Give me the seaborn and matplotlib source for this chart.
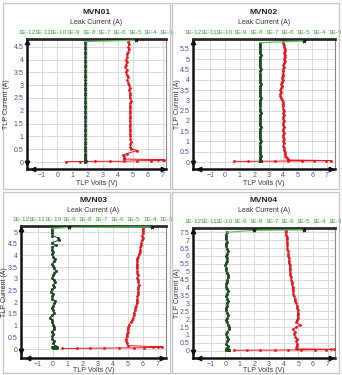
import numpy as np
import matplotlib
matplotlib.use('Agg')
import matplotlib.pyplot as plt
import seaborn as sns
from matplotlib.patches import Rectangle
from matplotlib.ticker import FixedLocator, FuncFormatter, NullLocator

sns.set_style('white')
plt.rcParams['font.family'] = ['Liberation Sans', 'DejaVu Sans']

titles = ['MVN01', 'MVN02', 'MVN03', 'MVN04']
leak_ticks = [1e-12, 1e-11, 1e-10, 1e-9, 1e-8, 1e-7, 1e-6, 1e-5, 1e-4, 1e-3]
leak_labels = ['1E-12', '1E-11', '1E-10', '1E-9', '1E-8', '1E-7', '1E-6', '1E-5', '1E-4', '1E-3']
volt_ticks = [-1, 0, 1, 2, 3, 4, 5, 6, 7]

# ---------------- MVN01 ----------------
i1 = [0.02, 0.02, 0.03, 0.03, 0.03, 0.05, 0.06, 0.07, 0.08, 0.09,
      0.12, 0.17, 0.22, 0.27, 0.33, 0.45, 0.52,
      0.60, 0.70, 0.80, 0.90, 1.00, 1.10, 1.20, 1.30, 1.40, 1.50,
      1.60, 1.70, 1.80, 1.90, 2.00, 2.10, 2.20, 2.30, 2.40, 2.50,
      2.60, 2.70, 2.80, 2.90, 3.00, 3.10, 3.20, 3.30, 3.40, 3.50,
      3.60, 3.70, 3.80, 3.90, 4.00, 4.10, 4.20, 4.30, 4.40, 4.50,
      4.60, 4.70, 4.75]
v1 = [0.6, 1.5, 2.5, 3.5, 4.4, 5.3, 6.2, 6.7, 7.0, 7.1,
      4.4, 4.45, 4.4, 4.35, 4.6, 5.3, 4.9,
      4.85, 4.85, 4.9, 4.85, 4.85, 4.8, 4.85, 4.8, 4.8, 4.85,
      4.8, 4.8, 4.85, 4.8, 4.8, 4.85, 4.8, 4.85, 4.9, 4.8,
      4.8, 4.85, 4.75, 4.8, 4.75, 4.7, 4.65, 4.7, 4.6, 4.55,
      4.6, 4.5, 4.55, 4.6, 4.55, 4.65, 4.6, 4.7, 4.75, 4.7,
      4.75, 4.7, 4.75]
l1 = [6.0e-9, 6.1e-9, 5.9e-9, 6.0e-9, 6.2e-9, 6.0e-9, 5.9e-9, 6.1e-9, 6.0e-9, 6.0e-9,
      6.1e-9, 6.0e-9, 5.9e-9, 6.0e-9, 6.1e-9, 6.0e-9, 6.0e-9,
      5.9e-9, 6.0e-9, 6.1e-9, 6.0e-9, 6.0e-9, 5.9e-9, 6.0e-9, 6.1e-9, 6.0e-9, 6.0e-9,
      6.0e-9, 6.1e-9, 5.9e-9, 6.0e-9, 6.0e-9, 6.1e-9, 6.0e-9, 5.9e-9, 6.0e-9, 6.0e-9,
      6.1e-9, 6.0e-9, 6.0e-9, 5.9e-9, 6.0e-9, 6.1e-9, 6.0e-9, 6.0e-9, 5.9e-9, 6.0e-9,
      6.0e-9, 6.1e-9, 6.0e-9, 6.0e-9, 5.9e-9, 6.0e-9, 6.1e-9, 6.0e-9, 6.0e-9, 6.0e-9,
      5.9e-9, 6.0e-9, 1.1e-5]

# ---------------- MVN02 ----------------
i2 = [0.03, 0.03, 0.04, 0.04, 0.05, 0.05, 0.06, 0.06, 0.07,
      0.10, 0.15, 0.20, 0.25, 0.30, 0.40,
      0.5, 0.6, 0.7, 0.8, 0.9, 1.0, 1.1, 1.2, 1.3, 1.4,
      1.5, 1.6, 1.7, 1.8, 1.9, 2.0, 2.1, 2.2, 2.3, 2.4,
      2.5, 2.6, 2.7, 2.8, 2.9, 3.0, 3.1, 3.2, 3.3, 3.4,
      3.5, 3.6, 3.7, 3.8, 3.9, 4.0, 4.1, 4.2, 4.3, 4.4,
      4.5, 4.6, 4.7, 4.8, 4.9, 5.0, 5.1, 5.2, 5.3, 5.4,
      5.5, 5.6, 5.7, 5.8, 5.88]
v2 = [0.6, 1.6, 2.5, 3.4, 4.3, 5.3, 6.1, 6.9, 7.3,
      4.3, 4.3, 4.25, 4.2, 4.15, 4.1,
      4.1, 4.05, 4.05, 4.0, 4.05, 4.0, 4.05, 4.0, 4.0, 4.05,
      4.0, 4.0, 4.05, 4.0, 4.0, 4.05, 4.0, 4.0, 4.05, 4.0,
      4.05, 4.0, 3.95, 4.0, 4.0, 3.9, 3.85, 3.8, 3.8, 3.85,
      3.8, 3.85, 3.9, 3.85, 3.9, 3.95, 3.9, 3.95, 4.0, 3.95,
      4.0, 4.05, 4.0, 4.05, 4.1, 4.05, 4.1, 4.1, 4.05, 4.1,
      4.1, 4.05, 4.05, 4.0, 3.97]
l2 = [1.8e-8, 1.8e-8, 1.9e-8, 1.8e-8, 1.7e-8, 1.8e-8, 1.8e-8, 1.9e-8, 1.8e-8,
      1.8e-8, 1.7e-8, 1.8e-8, 1.8e-8, 1.9e-8, 1.8e-8,
      1.8e-8, 1.8e-8, 1.7e-8, 1.8e-8, 1.8e-8, 1.9e-8, 1.8e-8, 1.8e-8, 1.8e-8, 1.7e-8,
      1.8e-8, 1.8e-8, 1.9e-8, 1.8e-8, 1.8e-8, 1.8e-8, 1.7e-8, 1.8e-8, 1.8e-8, 1.9e-8,
      1.8e-8, 1.8e-8, 1.8e-8, 1.7e-8, 1.8e-8, 1.8e-8, 1.9e-8, 1.8e-8, 1.8e-8, 1.8e-8,
      1.7e-8, 1.8e-8, 1.8e-8, 1.9e-8, 1.8e-8, 1.8e-8, 1.8e-8, 1.7e-8, 1.8e-8, 1.8e-8,
      1.9e-8, 1.8e-8, 1.8e-8, 1.8e-8, 1.7e-8, 1.8e-8, 1.8e-8, 1.9e-8, 1.8e-8, 1.8e-8,
      1.8e-8, 1.7e-8, 1.8e-8, 1.8e-8, 1.1e-5]

# ---------------- MVN03 ----------------
i3 = [0.03, 0.03, 0.04, 0.04, 0.05, 0.05, 0.06, 0.07, 0.08, 0.09,
      0.15, 0.25, 0.35, 0.45,
      0.55, 0.65, 0.75, 0.85, 0.95, 1.05, 1.15, 1.25, 1.35, 1.45,
      1.55, 1.65, 1.75, 1.85, 1.95, 2.05, 2.15, 2.25, 2.35, 2.45,
      2.55, 2.65, 2.75, 2.85, 2.95, 3.05, 3.15, 3.25, 3.35, 3.45,
      3.55, 3.65, 3.75, 3.85, 3.95, 4.05, 4.15, 4.25, 4.35, 4.45,
      4.55, 4.65, 4.75, 4.85, 4.95, 5.05, 5.15,
      5.20, 5.22]
v3 = [0.6, 1.6, 2.5, 3.4, 4.4, 5.4, 6.1, 6.7, 7.0, 7.3,
      5.0, 4.95, 4.9, 4.9,
      4.95, 4.95, 5.0, 5.0, 5.05, 5.1, 5.2, 5.3, 5.35, 5.4,
      5.4, 5.5, 5.5, 5.55, 5.6, 5.6, 5.65, 5.65, 5.7, 5.7,
      5.7, 5.7, 5.75, 5.7, 5.7, 5.65, 5.7, 5.65, 5.65, 5.6,
      5.6, 5.6, 5.65, 5.6, 5.7, 5.75, 5.8, 5.85, 5.85, 5.9,
      5.9, 5.95, 6.0, 5.95, 6.0, 6.0, 6.0,
      6.0, 6.0]
l3 = [1.2e-10, 1.5e-10, 1.0e-10, 1.3e-10, 1.7e-10, 1.1e-10, 1.4e-10, 0.9e-10, 1.2e-10, 1.6e-10,
      1.3e-10, 1.0e-10, 1.1e-10, 0.9e-10,
      0.9e-10, 1.0e-10, 0.8e-10, 1.1e-10, 1.2e-10, 1.0e-10, 0.9e-10, 0.8e-10, 0.6e-10, 0.9e-10,
      1.1e-10, 1.0e-10, 0.8e-10, 1.0e-10, 1.2e-10, 1.3e-10, 0.9e-10, 0.8e-10, 1.0e-10, 0.7e-10,
      0.9e-10, 1.1e-10, 1.0e-10, 1.3e-10, 1.1e-10, 0.9e-10, 1.0e-10, 1.2e-10, 1.4e-10, 1.1e-10,
      1.0e-10, 0.9e-10, 1.1e-10, 1.3e-10, 1.0e-10, 0.8e-10, 1.0e-10, 0.8e-10, 0.9e-10, 1.4e-10,
      0.8e-10, 2.2e-10, 2.0e-10, 0.9e-10, 0.8e-10, 0.9e-10, 0.8e-10,
      1.0e-9, 1.4e-4]

# ---------------- MVN04 ----------------
i4 = [0.03, 0.03, 0.04, 0.04, 0.05, 0.05, 0.06, 0.07, 0.08, 0.09,
      0.12, 0.20,
      0.30, 0.45, 0.60, 0.75, 0.90, 1.05, 1.20, 1.35, 1.50, 1.65,
      1.80, 1.95, 2.10, 2.25, 2.40, 2.55, 2.70, 2.85, 3.00, 3.15,
      3.30, 3.45, 3.60, 3.75, 3.90, 4.05, 4.20, 4.35, 4.50, 4.65,
      4.80, 4.95, 5.10, 5.25, 5.40, 5.55, 5.70, 5.85, 6.00, 6.15,
      6.30, 6.45, 6.60, 6.75, 6.90, 7.05, 7.20, 7.35, 7.50,
      7.62, 7.65]
v4 = [0.6, 1.5, 2.4, 3.4, 4.3, 5.2, 6.1, 6.9, 7.2, 7.4,
      4.9, 4.85,
      4.9, 4.9, 4.85, 4.9, 4.8, 4.7, 4.75, 4.6, 4.85, 5.1,
      4.85, 4.9, 4.95, 4.95, 4.95, 4.95, 4.9, 4.9, 4.85, 4.75,
      4.75, 4.7, 4.65, 4.65, 4.6, 4.6, 4.55, 4.55, 4.5, 4.5,
      4.45, 4.45, 4.4, 4.4, 4.4, 4.35, 4.35, 4.35, 4.3, 4.3,
      4.3, 4.25, 4.25, 4.25, 4.2, 4.2, 4.2, 4.15, 4.15,
      4.15, 4.15]
l4 = [1.4e-10, 1.8e-10, 1.2e-10, 1.5e-10, 1.9e-10, 1.3e-10, 1.6e-10, 1.4e-10, 1.7e-10, 1.2e-10,
      1.5e-10, 1.4e-10,
      1.6e-10, 1.3e-10, 1.5e-10, 1.7e-10, 1.4e-10, 1.2e-10, 1.5e-10, 1.8e-10, 1.9e-10, 1.6e-10,
      1.4e-10, 1.3e-10, 1.5e-10, 1.6e-10, 1.4e-10, 1.2e-10, 1.3e-10, 1.5e-10, 1.4e-10, 1.6e-10,
      1.5e-10, 1.3e-10, 1.4e-10, 1.6e-10, 1.5e-10, 1.3e-10, 1.2e-10, 1.4e-10, 1.5e-10, 1.7e-10,
      1.6e-10, 1.4e-10, 1.2e-10, 1.3e-10, 1.1e-10, 1.2e-10, 1.4e-10, 1.5e-10, 1.3e-10, 1.4e-10,
      1.6e-10, 1.5e-10, 1.3e-10, 1.2e-10, 1.4e-10, 1.3e-10, 1.2e-10, 1.3e-10, 1.4e-10,
      7.4e-9, 1.1e-5]

currents = [i1, i2, i3, i4]
volts = [v1, v2, v3, v4]
leaks = [l1, l2, l3, l4]
n_fail = [1, 1, 2, 2]

# layout (pixels): axes L, R, T, B ; panel box ; text rows
W, H = 342, 375
layout = [
    dict(ax=(27, 166, 39, 169), box=(3, 3, 170, 189), xlim=(-2.0, 7.2), ylim=(-0.27, 4.8),
         ymax=4.5, title_y=13, leak_y=23, volt_y=184, ylab_x=7),
    dict(ax=(193, 335, 39, 169), box=(172, 3, 339, 189), xlim=(-2.2, 7.55), ylim=(-0.34, 5.98),
         ymax=5.5, title_y=13, leak_y=23, volt_y=184, ylab_x=177),
    dict(ax=(21, 166, 226, 358), box=(3, 192, 170, 373), xlim=(-2.1, 7.55), ylim=(-0.38, 5.26),
         ymax=5.0, title_y=200, leak_y=210, volt_y=371, ylab_x=5),
    dict(ax=(193, 335, 228, 358), box=(172, 192, 339, 373), xlim=(-2.2, 7.5), ylim=(-0.46, 7.77),
         ymax=7.5, title_y=200, leak_y=210, volt_y=371, ylab_x=177),
]

fig = plt.figure(figsize=(W / 100, H / 100), dpi=100)
fig.patch.set_facecolor('white')

red = '#e8141b'
dgreen = '#1f4a22'
lgreen = '#5cc95c'
tick_blue = '#4a4aa8'
tick_green = '#3c9a3c'
txt = '#333333'

def fmt_num(v, pos):
    return ('%g' % v)

for k in range(4):
    lay = layout[k]
    L, R, T, B = lay['ax']
    ax = fig.add_axes([L / W, 1 - B / H, (R - L) / W, (B - T) / H])
    x0, y0, x1, y1 = lay['box']
    fig.add_artist(Rectangle((x0 / W, 1 - y1 / H), (x1 - x0) / W, (y1 - y0) / H,
                             transform=fig.transFigure, fill=False, ec='#c4c4c4', lw=0.9))

    I = currents[k]
    V = volts[k]
    Lk = leaks[k]
    nf = n_fail[k]

    # TLP I-V curve (red)
    sns.lineplot(x=V, y=I, sort=False, estimator=None, ax=ax, color=red, lw=0.7,
                 marker='o', markersize=2.0, markeredgewidth=0, zorder=3)
    ax.set_xlim(*lay['xlim'])
    ax.set_ylim(*lay['ylim'])
    ax.xaxis.set_major_locator(FixedLocator(volt_ticks))
    ax.yaxis.set_major_locator(FixedLocator(list(np.arange(0, lay['ymax'] + 0.01, 0.5))))
    ax.yaxis.set_major_formatter(FuncFormatter(fmt_num))
    ax.grid(True, color='#d4d4d4', lw=0.6)
    ax.set_axisbelow(True)
    ax.tick_params(axis='both', labelsize=5, colors=tick_blue, length=0, pad=2.5)
    ax.set_xlabel('')
    ax.set_ylabel('')
    for s in ['left', 'bottom']:
        ax.spines[s].set_linewidth(1.8)
        ax.spines[s].set_color('#111111')
    ax.spines['right'].set_linewidth(0.8)
    ax.spines['right'].set_color('#888888')
    ax.spines['top'].set_visible(False)

    # leakage current (top log axis)
    ax2 = ax.twiny()
    ax2.set_xscale('log')
    sns.lineplot(x=Lk[:-nf], y=I[:-nf], sort=False, estimator=None, ax=ax2, color=dgreen,
                 lw=0.7, marker='o', markersize=2.2, markeredgewidth=0, zorder=4)
    sns.lineplot(x=Lk[-nf - 1:], y=I[-nf - 1:], sort=False, estimator=None, ax=ax2,
                 color=lgreen, lw=0.9, zorder=4)
    ax2.plot(Lk[-nf:], I[-nf:], linestyle='none', marker='*', color='#111111', ms=3.2,
             mew=0.4, zorder=5)
    ax2.set_xlim(1e-12, 1e-3)
    ax2.set_ylim(*lay['ylim'])
    ax2.xaxis.set_major_locator(FixedLocator(leak_ticks))
    ax2.xaxis.set_major_formatter(FuncFormatter(lambda v, p: leak_labels[int(round(np.log10(v))) + 12]))
    ax2.xaxis.set_minor_locator(NullLocator())
    ax2.tick_params(axis='x', labelsize=4.6, colors=tick_green, length=0, pad=3)
    ax2.set_xlabel('')
    ax2.set_ylabel('')
    for s in ['left', 'bottom', 'right']:
        ax2.spines[s].set_visible(False)
    ax2.spines['top'].set_linewidth(2.0)
    ax2.spines['top'].set_color('#2a2a2a')

    # arrow heads on the thick axes
    for (xa, ya, m) in [(0, 0.975, '^'), (0, 0.05, 'v'), (0.045, 0, '<'), (0.975, 0, '>')]:
        ax2.plot([xa], [ya], marker=m, color='#111111', ms=3.2, transform=ax2.transAxes,
                 clip_on=False, zorder=6)

    cx = (L + R) / 2 / W
    fig.text(cx, 1 - lay['title_y'] / H, titles[k], ha='center', va='center',
             fontsize=6, fontweight='bold', color='#222222')
    fig.text(cx, 1 - lay['leak_y'] / H, 'Leak Current (A)', ha='center', va='center',
             fontsize=5, color=txt)
    fig.text(cx, 1 - lay['volt_y'] / H, 'TLP Volts (V)', ha='center', va='center',
             fontsize=5, color=txt)
    fig.text(lay['ylab_x'] / W, 1 - ((T + B) / 2) / H, 'TLP Current (A)', ha='center',
             va='center', rotation=90, fontsize=5, color=txt)

fig.savefig('out.png', dpi=100, facecolor='white')
